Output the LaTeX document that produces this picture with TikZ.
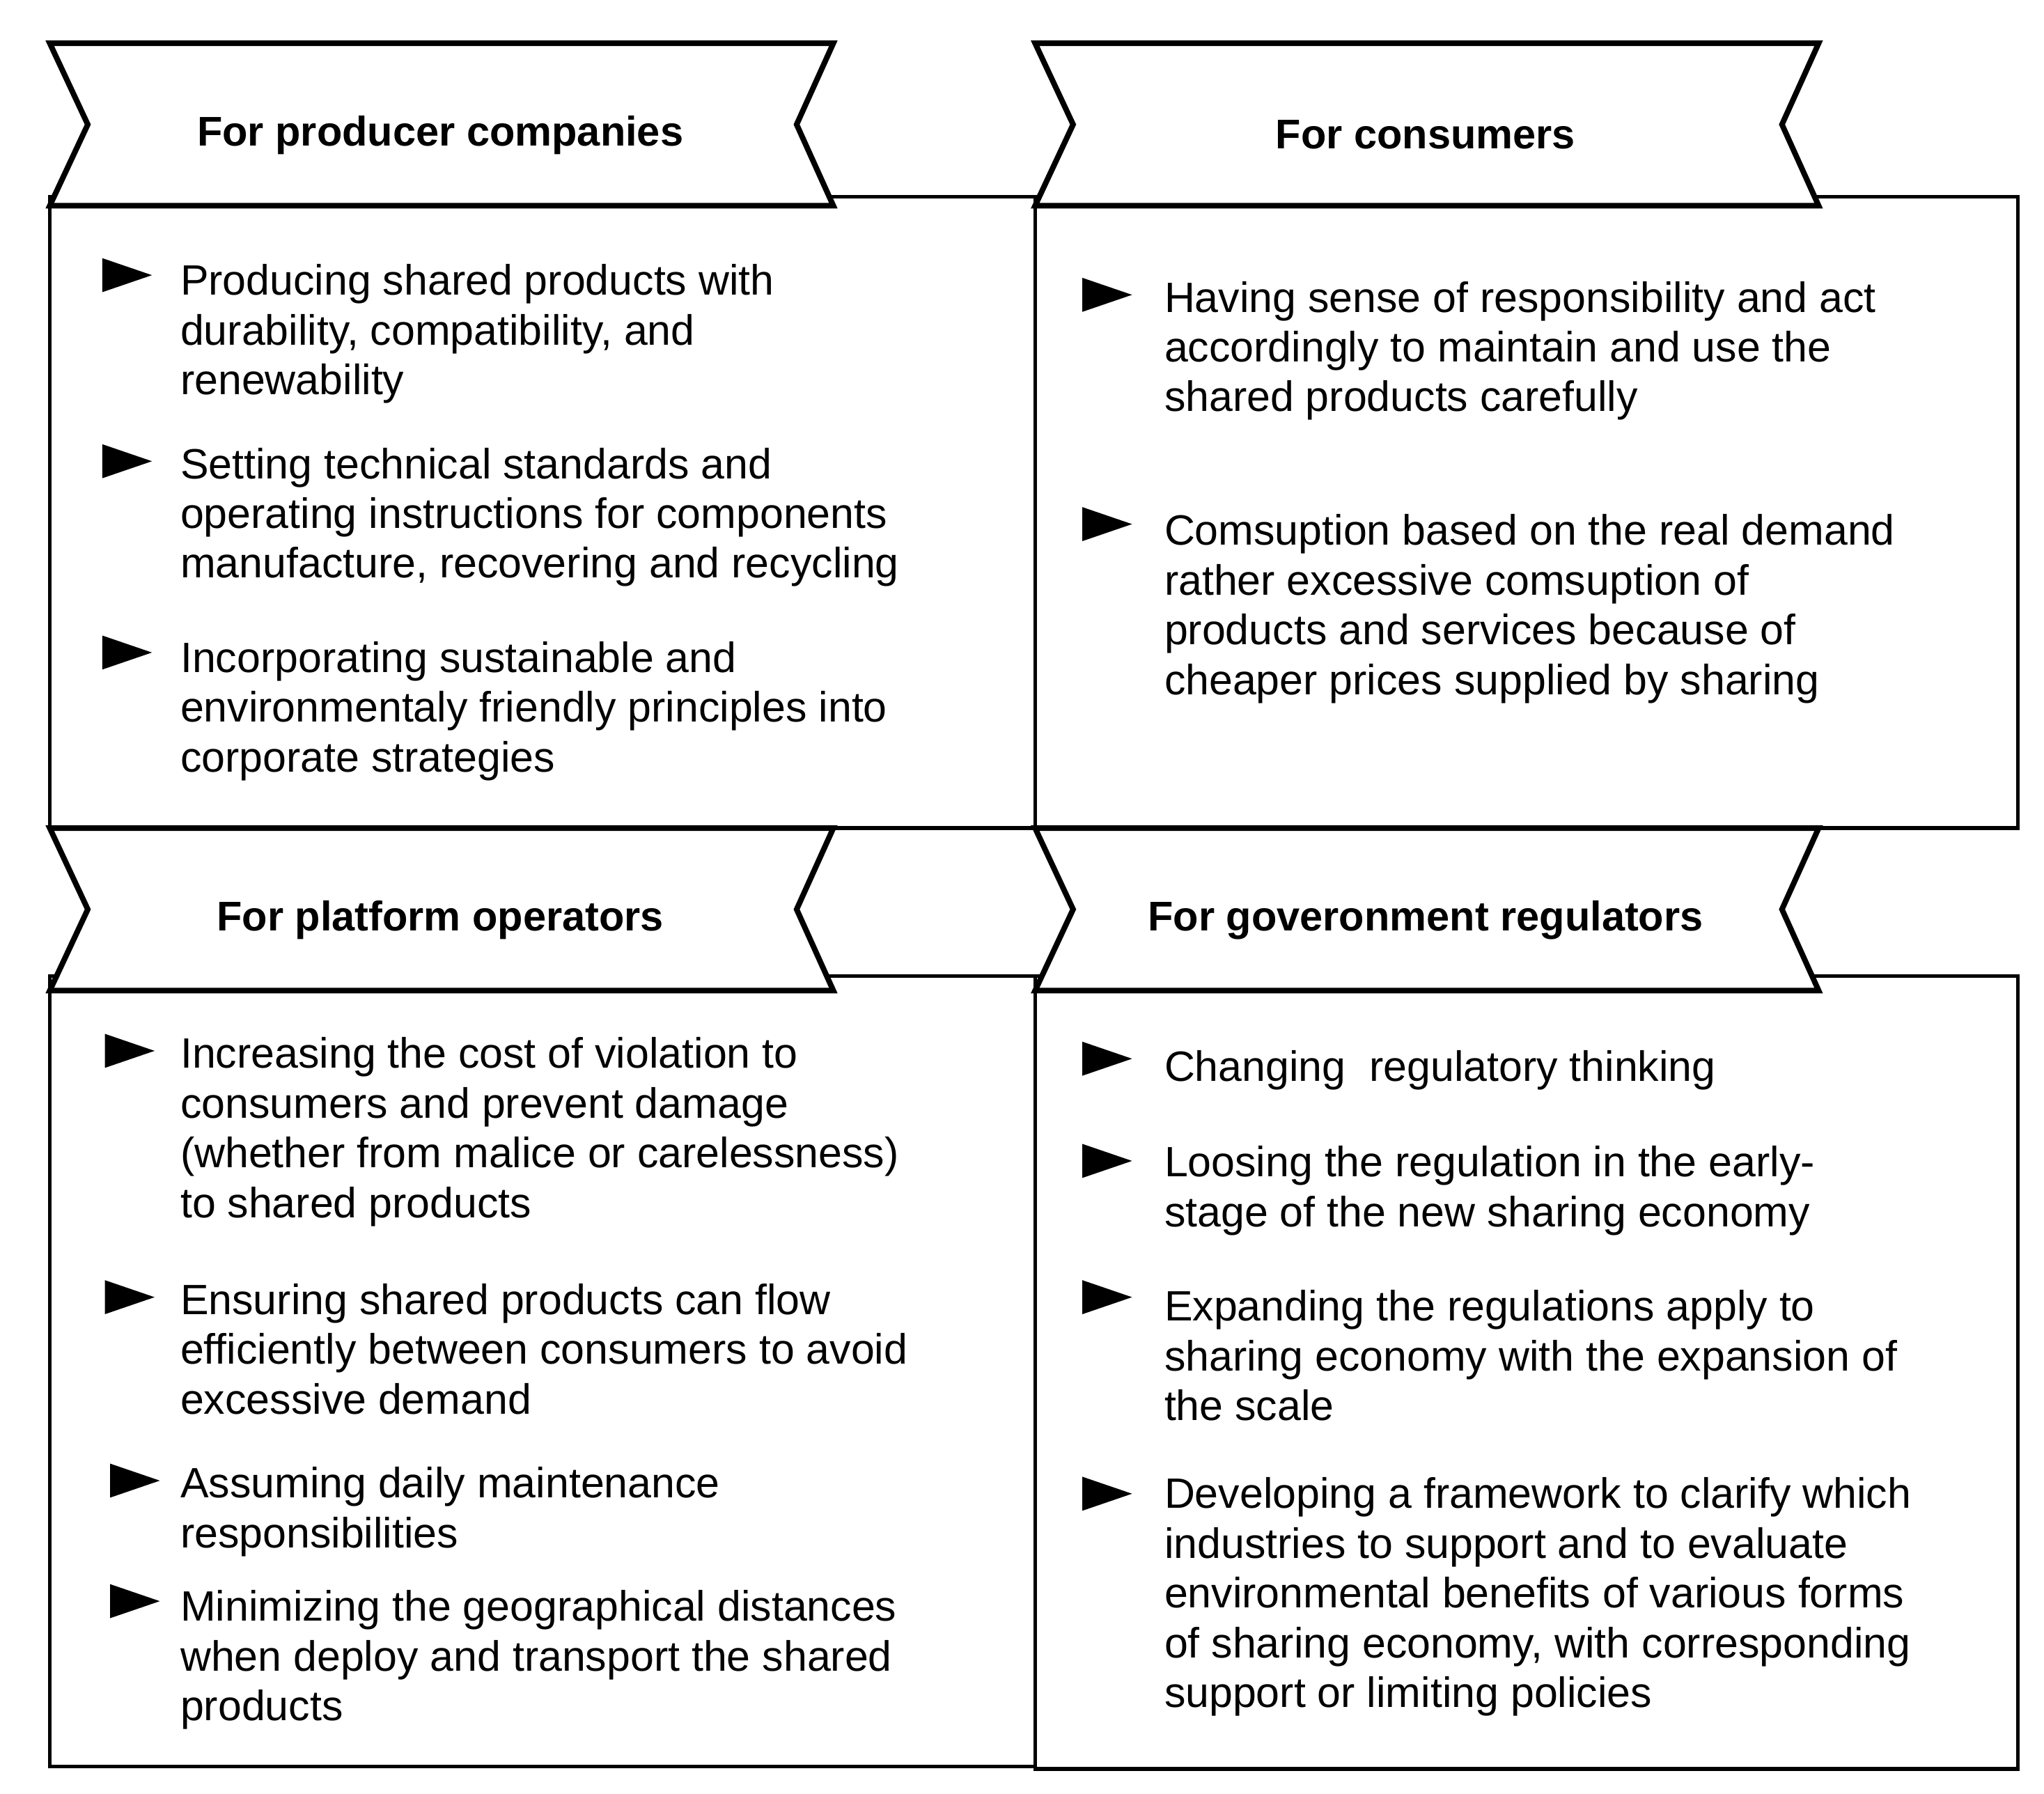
\documentclass[tikz,border=0pt]{standalone}
\usepackage{fontspec}
\setmainfont{Liberation Sans}
\begin{document}
\begin{tikzpicture}[x=0.01cm,y=-0.01cm,
  box/.style={draw=black,line width=0.8pt},
  banner/.style={draw=black,line width=1.2pt,fill=white,line join=miter},
  head/.style={font=\fontsize{9}{11}\selectfont\bfseries},
  txt/.style={anchor=north west,align=left,inner sep=0pt,font=\fontsize{9.2}{10.8}\selectfont},
  bul/.style={fill=black}]
\useasboundingbox (0,0) rectangle (1560,1369);
\newcommand{\bullt}[2]{\fill (#1,#2-13) -- (#1+38,#2) -- (#1,#2+13) -- cycle;}
\newcommand{\bann}[3]{\draw[banner] (#1,#2) -- (#1+598,#2) -- (#1+570,#2+62) -- (#1+598,#2+124) -- (#1,#2+124) -- (#1+29,#2+62) -- cycle;
  \node[head] at (#1+298,#2+70) {#3};}
% boxes
\draw[box] (38,150) rectangle (790,632);
\draw[box] (790,150) rectangle (1540,632);
\draw[box] (38,745) rectangle (790,1348);
\draw[box] (790,745) rectangle (1540,1350);
% banners
\bann{38}{33}{For producer companies}
\bann{790}{33}{For consumers}
\bann{38}{632}{For platform operators}
\bann{790}{632}{For goveronment regulators}
% TL
\bullt{78}{210}\node[txt] (a1) at (137,201) {Producing shared products with\\durability, compatibility, and\\renewability};
\bullt{78}{352}\node[txt] (a2) at (137,341) {Setting technical standards and\\operating instructions for components\\manufacture, recovering and recycling};
\bullt{78}{498}\node[txt] (a3) at (137,489) {Incorporating sustainable and\\environmentaly friendly principles into\\corporate strategies};
% TR
\bullt{826}{225}\node[txt] (b1) at (888,214) {Having sense of responsibility and act\\accordingly to maintain and use the\\shared products carefully};
\bullt{826}{400}\node[txt] (b2) at (888,392) {Comsuption based on the real demand\\rather excessive comsuption of\\products and services because of\\cheaper prices supplied by sharing};
% BL
\bullt{80}{802}\node[txt] (c1) at (137,791) {Increasing the cost of violation to\\consumers and prevent damage\\(whether from malice or carelessness)\\to shared products};
\bullt{80}{990}\node[txt] (c2) at (137,979) {Ensuring shared products can flow\\efficiently between consumers to avoid\\excessive demand};
\bullt{84}{1130}\node[txt] (c3) at (137,1119) {Assuming daily maintenance\\responsibilities};
\bullt{84}{1222}\node[txt] (c4) at (137,1213) {Minimizing the geographical distances\\when deploy and transport the shared\\products};
% BR
\bullt{826}{808}\node[txt] (d1) at (888,801) {Changing\ \ regulatory thinking};
\bullt{826}{886}\node[txt] (d2) at (888,874) {Loosing the regulation in the early-\\stage of the new sharing economy};
\bullt{826}{990}\node[txt] (d3) at (888,984) {Expanding the regulations apply to\\sharing economy with the expansion of\\the scale};
\bullt{826}{1140}\node[txt] (d4) at (888,1127) {Developing a framework to clarify which\\industries to support and to evaluate\\environmental benefits of various forms\\of sharing economy, with corresponding\\support or limiting policies};
\end{tikzpicture}
\end{document}
